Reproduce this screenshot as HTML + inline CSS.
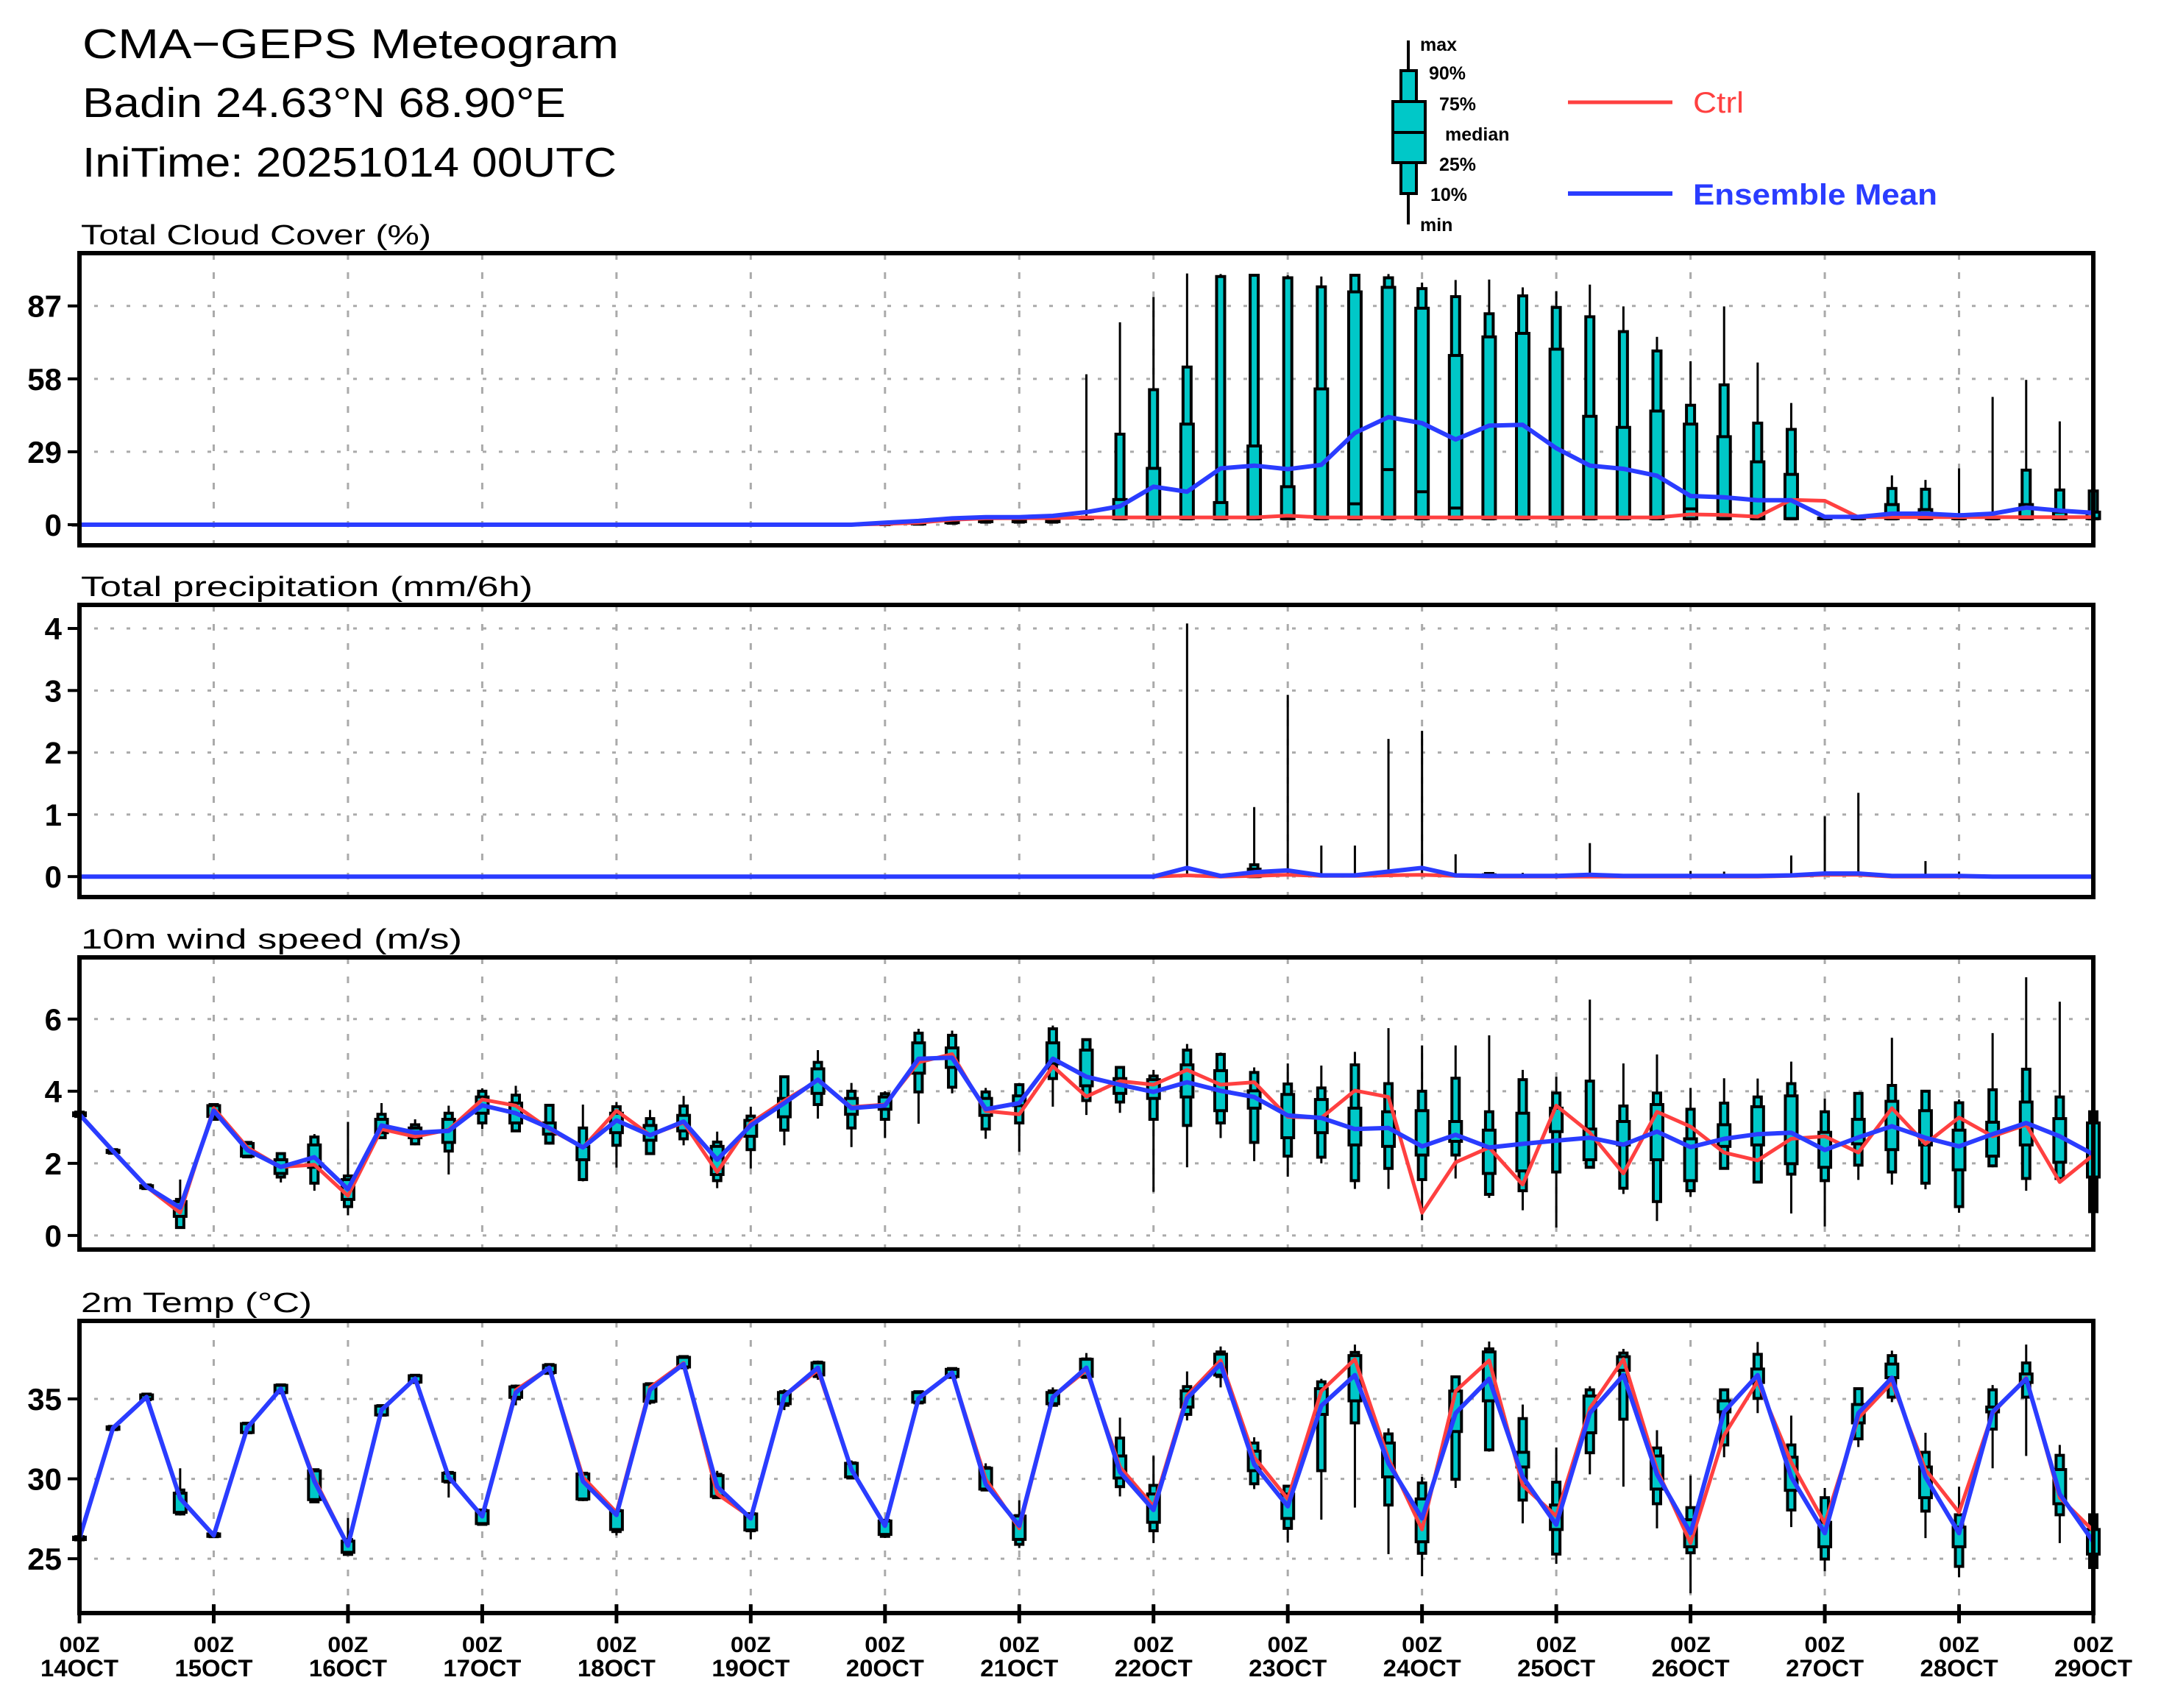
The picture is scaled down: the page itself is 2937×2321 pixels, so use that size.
<!DOCTYPE html>
<html><head><meta charset="utf-8"><title>CMA-GEPS Meteogram</title>
<style>html,body{margin:0;padding:0;background:#fff}svg{display:block}text{font-family:"Liberation Sans",sans-serif}</style>
</head><body>
<svg id="chart" xmlns="http://www.w3.org/2000/svg" width="2937" height="2321" viewBox="0 0 2937 2321">
<rect width="2937" height="2321" fill="#fff"/>
<g>
<text x="112" y="79" font-size="57" textLength="729" lengthAdjust="spacingAndGlyphs">CMA−GEPS Meteogram</text>
<text x="112" y="159" font-size="57" textLength="657" lengthAdjust="spacingAndGlyphs">Badin 24.63°N 68.90°E</text>
<text x="112" y="240" font-size="57" textLength="726" lengthAdjust="spacingAndGlyphs">IniTime: 20251014 00UTC</text>
</g>
<g font-weight="bold" font-size="25">
<line x1="1914" y1="55" x2="1914" y2="305" stroke="#000" stroke-width="4"/>
<rect x="1904" y="96" width="21" height="167" fill="#00c8c8" stroke="#000" stroke-width="4"/>
<rect x="1893" y="138" width="44" height="83" fill="#00c8c8" stroke="#000" stroke-width="4"/>
<line x1="1893" y1="180" x2="1937" y2="180" stroke="#000" stroke-width="4"/>
<text x="1930" y="69">max</text><text x="1942" y="108">90%</text><text x="1956" y="150">75%</text>
<text x="1964" y="191">median</text><text x="1956" y="232">25%</text><text x="1944" y="273">10%</text><text x="1930" y="314">min</text>
<line x1="2131" y1="139" x2="2273" y2="139" stroke="#ff4040" stroke-width="5"/>
<text x="2301" y="153" font-size="40" font-weight="normal" fill="#ff4040" textLength="69" lengthAdjust="spacingAndGlyphs">Ctrl</text>
<line x1="2131" y1="263" x2="2273" y2="263" stroke="#2a3cff" stroke-width="6"/>
<text x="2301" y="278" font-size="40" font-weight="bold" fill="#2a3cff" textLength="332" lengthAdjust="spacingAndGlyphs">Ensemble Mean</text>
</g>
</svg>
<script>
// ---- Cloud cover (%) ----
const cloudMax=[0,0,0,0,0,0,0,0,0,0,0,0,0,0,0,0,0,0,0,0,0,0,0,0,1,2,2.5,3,3,3,59.8,80.5,90.5,99.9,99.7,99.2,99.2,98.7,99.4,99.7,96.3,97.3,97.5,94.4,92.9,95.5,86.8,74.7,65,86.8,64.5,48.4,3,3,19.6,17.8,22.4,50.8,57.6,41.1,13.4];
const cloudP90=[0,0,0,0,0,0,0,0,0,0,0,0,0,0,0,0,0,0,0,0,0,0,0,0,0.8,1.5,2,2.6,2.6,2.6,3,36,53.7,62.7,98.7,99.2,98.2,94.6,99.2,98.2,93.9,90.7,83.9,91,86.4,82.7,76.8,69.1,47.5,55.6,40.4,37.9,3,3,14.4,14.1,3,3,21.7,13.8,13.4];
const cloudP75=[0,0,0,0,0,0,0,0,0,0,0,0,0,0,0,0,0,0,0,0,0,0,0,0,0.5,1,1.5,2,2,2,2.6,10,22.4,40,8.8,31.3,15.1,54,92.6,94.4,86.1,67.3,74.7,76.1,69.8,43.1,38.7,45.2,40,35,25,20,2.6,2.6,8,6,2.6,2.6,8,5,5];
const cloudMed=[0,0,0,0,0,0,0,0,0,0,0,0,0,0,0,0,0,0,0,0,0,0,0,0,0.3,0.5,1,1.5,1.5,1.5,2.4,2.4,2.4,2.4,2.4,2.4,2.4,2.4,8.3,21.9,13.1,6.6,2.4,2.4,2.4,2.4,2.4,2.4,6.3,2.4,2.4,2.4,2.4,2.4,2.4,2.4,2.4,2.4,2.4,2.4,2.4];
const cloudP25=[0,0,0,0,0,0,0,0,0,0,0,0,0,0,0,0,0,0,0,0,0,0,0,0,0.2,0.3,0.8,1.2,1.2,1.2,2.4,2.4,2.4,2.4,2.4,2.4,2.4,2.4,2.4,2.4,2.4,2.4,2.4,2.4,2.4,2.4,2.4,2.4,2.4,2.4,2.4,2.4,2.4,2.4,2.4,2.4,2.4,2.4,2.4,2.4,2.4];
const cloudP10=[0,0,0,0,0,0,0,0,0,0,0,0,0,0,0,0,0,0,0,0,0,0,0,0,0,0.2,0.6,1,1,1,2.3,2.3,2.3,2.3,2.3,2.3,2.3,2.3,2.3,2.3,2.3,2.3,2.3,2.3,2.3,2.3,2.3,2.3,2.3,2.3,2.3,2.3,2.3,2.3,2.3,2.3,2.3,2.3,2.3,2.3,2.3];
const cloudMin=[0,0,0,0,0,0,0,0,0,0,0,0,0,0,0,0,0,0,0,0,0,0,0,0,0,0,0.5,0.8,0.8,0.8,2.2,2.2,2.2,2.2,2.2,2.2,2.2,2.2,2.2,2.2,2.2,2.2,2.2,2.2,2.2,2.2,2.2,2.2,2.2,2.2,2.2,2.2,2.2,2.2,2.2,2.2,2.2,2.2,2.2,2.2,2.2];
const cloudMean=[0,0,0,0,0,0,0,0,0,0,0,0,0,0,0,0,0,0,0,0,0,0,0,0,0.8,1.5,2.5,3,3,3.5,5,7.3,15.1,13.1,22.4,23.5,22.1,23.8,36.5,42.8,40.4,33.9,39.4,39.7,30.4,23.5,22.2,19.5,11.4,10.9,9.7,9.7,3.1,3.1,4.4,4.4,3.7,4.4,6.8,5.6,4.7];
const cloudCtrl=[0,0,0,0,0,0,0,0,0,0,0,0,0,0,0,0,0,0,0,0,0,0,0,0,0.3,0.8,2,2.5,2.6,2.6,2.9,2.9,2.9,2.9,2.9,2.9,3.6,2.9,2.9,2.9,2.9,2.9,2.9,2.9,2.9,2.9,2.9,2.9,4.1,3.9,3.2,9.9,9.5,3,3,3,3,3,3,3,3];
const cloudTicks=[0,29,58,87];
// ---- Precipitation (mm/6h) ----
const precipMax=[0,0,0,0,0,0,0,0,0,0,0,0,0,0,0,0,0,0,0,0,0,0,0,0,0,0,0,0,0,0,0,0,0,4.08,0,1.12,2.93,0.5,0.5,2.22,2.35,0.36,0.05,0.06,0,0.54,0,0,0.09,0.08,0,0.34,0.97,1.35,0,0.25,0.08,0,0,0,0];
const precipP90=[0,0,0,0,0,0,0,0,0,0,0,0,0,0,0,0,0,0,0,0,0,0,0,0,0,0,0,0,0,0,0,0,0,0,0,0.19,0,0,0,0,0,0,0.05,0,0,0,0,0,0,0,0,0,0,0,0,0,0,0,0,0,0];
const precipP75=[0,0,0,0,0,0,0,0,0,0,0,0,0,0,0,0,0,0,0,0,0,0,0,0,0,0,0,0,0,0,0,0,0,0,0,0.12,0,0,0,0,0,0,0.03,0,0,0,0,0,0,0,0,0,0,0,0,0,0,0,0,0,0];
const precipLow=[0,0,0,0,0,0,0,0,0,0,0,0,0,0,0,0,0,0,0,0,0,0,0,0,0,0,0,0,0,0,0,0,0,0,0,0,0,0,0,0,0,0,0,0,0,0,0,0,0,0,0,0,0,0,0,0,0,0,0,0,0];
const precipMean=[0,0,0,0,0,0,0,0,0,0,0,0,0,0,0,0,0,0,0,0,0,0,0,0,0,0,0,0,0,0,0,0,0,0.14,0.01,0.07,0.1,0.02,0.02,0.08,0.14,0.02,0.01,0.01,0.01,0.03,0.01,0.01,0.01,0.01,0.01,0.02,0.05,0.05,0.01,0.01,0.01,0,0,0,0];
const precipCtrl=[0,0,0,0,0,0,0,0,0,0,0,0,0,0,0,0,0,0,0,0,0,0,0,0,0,0,0,0,0,0,0,0,0,0.02,0,0.01,0.03,0.01,0.01,0.02,0.03,0.01,0,0,0,0,0,0,0,0,0,0.01,0.03,0.03,0,0,0,0,0,0,0];
const precipTicks=[0,1,2,3,4];
// ---- 10m wind (m/s) ----
const windMean=[3.36,2.34,1.35,0.77,3.46,2.37,1.9,2.17,1.28,3.05,2.85,2.9,3.61,3.39,2.98,2.44,3.19,2.78,3.16,2.1,3.05,3.67,4.32,3.53,3.6,4.9,4.93,3.5,3.67,4.9,4.4,4.18,3.98,4.25,4.01,3.84,3.33,3.26,2.95,2.98,2.47,2.79,2.44,2.54,2.63,2.71,2.52,2.88,2.45,2.68,2.81,2.85,2.37,2.72,3.03,2.71,2.47,2.81,3.12,2.75,2.25];
const windCtrl=[3.36,2.34,1.35,0.63,3.53,2.44,1.9,1.96,1.1,2.95,2.74,2.93,3.77,3.6,2.95,2.44,3.46,2.78,3.13,1.76,3.12,3.74,4.3,3.56,3.63,4.8,5.03,3.45,3.36,4.69,3.85,4.28,4.18,4.59,4.18,4.25,3.29,3.26,4.02,3.84,0.63,2.03,2.44,1.41,3.6,2.85,1.72,3.43,3.02,2.3,2.08,2.68,2.75,2.3,3.53,2.54,3.27,2.75,3.07,1.48,2.23];
const windMax=[3.45,2.4,1.42,1.55,3.67,2.62,2.27,2.81,3.15,3.67,3.22,3.6,4.08,4.15,3.63,3.63,3.7,3.48,3.87,2.88,3.57,4.4,5.14,4.23,4,5.73,5.68,4.09,4.23,5.82,5.45,4.66,4.59,5.31,5.07,4.66,4.77,4.71,5.09,5.75,5.27,5.27,5.55,4.59,4.4,6.54,4.77,5.02,4.09,4.36,4.35,4.82,3.8,3.94,5.48,4,3.77,5.61,7.16,6.48,3.43];
const windP90=[3.42,2.38,1.4,1,3.63,2.58,2.27,2.73,1.65,3.36,3.07,3.39,4,3.89,3.61,2.98,3.57,3.24,3.59,2.59,3.31,4.4,4.8,4,3.93,5.61,5.55,3.98,4.18,5.73,5.43,4.66,4.42,5.14,5.02,4.52,4.2,4.09,4.73,4.21,4,4.36,3.43,4.32,3.95,4.28,3.59,3.95,3.5,3.67,3.84,4.21,3.43,3.94,4.16,4,3.68,4.04,4.61,3.84,3.43];
const windP75=[3.4,2.36,1.38,0.94,3.6,2.55,2.1,2.51,1.55,3.22,2.98,3.22,3.84,3.67,3.12,2.47,3.39,3.05,3.33,2.47,3.19,3.8,4.62,3.8,3.84,5.34,5.2,3.8,3.87,5.34,5.14,4.35,4.32,4.73,4.57,4.01,3.91,3.77,3.53,3.43,3.46,3.16,2.92,3.39,3.53,2.95,3.16,3.63,2.68,3.07,3.57,3.87,2.86,3.22,3.72,3.46,2.92,3.14,3.7,3.24,3.12];
const windP25=[3.32,2.3,1.32,0.53,3.3,2.2,1.72,1.89,1,2.85,2.71,2.58,3.39,3.12,2.81,2.1,2.85,2.64,2.9,1.69,2.75,3.29,3.94,3.36,3.5,4.5,4.66,3.33,3.6,4.76,4.15,3.94,3.8,3.84,3.46,3.53,2.71,2.85,2.51,2.47,2.23,2.61,1.72,1.79,2.88,2.1,2.51,2.1,1.52,2.47,2.51,1.99,1.89,2.54,2.38,2.51,1.82,2.2,2.51,2.03,1.62];
const windP10=[3.3,2.28,1.3,0.22,3.22,2.18,1.62,1.45,0.8,2.71,2.54,2.34,3.12,2.9,2.56,1.55,2.5,2.27,2.68,1.52,2.38,2.92,3.63,2.98,3.22,3.98,4.11,2.95,3.12,4.35,3.74,3.7,3.22,3.05,3.12,2.58,2.2,2.17,1.52,1.86,1.55,2.23,1.14,1.24,1.76,1.89,1.31,0.94,1.24,1.86,1.48,1.7,1.52,1.95,1.76,1.45,0.8,1.93,1.58,1.58,0.66];
const windMin=[3.28,2.26,1.28,0.22,3.2,2.15,1.47,1.24,0.56,2.68,2.5,1.69,2.95,2.88,2.52,1.5,1.88,2.24,2.5,1.31,1.86,2.5,3.24,2.45,2.7,3.1,3.94,2.68,2.32,3.57,3.34,3.4,1.21,1.89,2.7,2.06,1.63,2,1.29,1.29,0.42,1.58,1.04,0.7,0.22,1.89,1.15,0.4,1.07,1.86,1.45,0.61,0.25,1.54,1.41,1.28,0.63,1.89,1.24,1.58,0.66];
const windTicks=[0,2,4,6];
// ---- 2m temperature (°C) ----
const tempMean=[26.28,33.18,35.13,28.78,26.46,33.2,35.64,29.84,25.82,34.31,36.28,30.11,27.65,35.4,36.95,29.84,27.74,35.57,37.18,29.51,27.52,35.18,36.95,30.58,27.06,35.03,36.64,29.66,27.06,35.11,36.95,30.43,28.05,35.03,37.18,30.89,28.28,34.57,36.49,30.97,27.52,34.11,36.26,30.12,27.13,34.11,36.49,30.28,26.6,34.19,36.49,30.12,26.6,34.11,36.33,30.12,26.6,34.19,36.26,29.05,26.06];
const tempCtrl=[26.28,33.18,35.13,28.78,26.46,33.2,35.64,30.0,25.82,34.31,36.28,30.11,27.65,35.55,36.95,30.1,27.9,35.72,37.25,29.05,27.6,35.18,36.8,30.58,27.06,35.03,36.64,29.97,26.9,35.11,36.8,30.74,28.28,35.21,37.41,31.35,28.74,35.49,37.48,31.27,26.83,35.49,37.41,29.59,27.67,34.42,37.48,30.58,25.98,32.73,36.1,31.04,27.21,33.8,36.03,30.58,27.9,34.11,36.33,28.82,26.75];
const tempMax=[26.4,33.3,35.35,30.66,26.6,33.5,35.9,30.6,27.55,34.6,36.5,30.4,28.1,35.9,37.2,30.4,28.05,36,37.7,30.5,27.85,35.6,37.4,31.15,27.45,35.5,36.95,30.97,28.67,35.72,37.87,33.83,31.43,36.72,38.28,32.6,29.54,36.26,38.4,33.16,30.12,36.38,38.59,34.65,31.96,35.8,38.13,33.04,30.2,35.57,38.56,33.96,29.43,35.64,38.02,32.88,29.51,35.87,38.4,32.12,27.75];
const tempP90=[26.38,33.28,35.3,29.3,26.58,33.48,35.88,30.57,26.2,34.58,36.48,30.4,28.05,35.8,37.15,30.35,28.02,35.95,37.65,30.28,27.82,35.45,37.3,31,27.4,35.45,36.9,30.7,27.7,35.5,37.5,32.55,29.59,35.77,37.94,32.24,29.54,36.07,37.91,32.81,29.74,36.38,38.13,33.77,29.79,35.57,37.87,31.93,28.2,35.57,37.79,32.12,28.82,35.64,37.71,31.66,27.75,35.57,37.25,31.47,27.75];
const tempP75=[26.35,33.25,35.25,29.1,26.55,33.45,35.85,30.5,26.1,34.55,36.45,30.35,28,35.75,37.1,30.3,28,35.9,37.6,30.2,27.8,35.4,37.25,30.97,27.36,35.4,36.85,30.66,27.67,35.4,37.48,31.43,29.05,35.5,37.8,31.73,29.05,35.64,37.71,32.24,28.74,35.49,37.94,31.66,28.36,35.18,37.64,31.43,27.44,34.88,36.87,31.35,27.28,34.65,37.18,30.74,26.98,34.49,36.56,30.58,26.83];
const tempP25=[26.2,33.1,35,27.9,26.4,32.9,35.4,28.7,25.4,34,36.05,29.85,27.2,35.1,36.65,28.74,26.83,34.85,37,28.9,26.8,34.7,36.5,30.12,26.52,34.8,36.4,29.36,26.21,34.7,36.41,30.05,27.28,34.49,36.49,30.51,27.52,34.03,34.88,30.12,26.06,32.96,34.88,30.74,26.83,32.88,36.79,29.36,25.75,34.19,36.03,29.28,25.75,33.5,36.33,28.82,25.75,34.19,36.03,28.44,25.29];
const tempP10=[26.18,33.08,34.95,27.8,26.38,32.88,35.38,28.56,25.27,33.98,36.03,29.8,27.15,35,36.6,28.7,26.7,34.8,36.95,28.82,26.75,34.6,36.4,30.05,26.4,34.75,36.35,29.3,25.9,34.6,36.35,29.51,26.75,34.03,36.4,29.69,26.9,30.51,33.5,28.36,25.34,29.97,31.81,28.67,25.29,31.63,33.73,28.44,25.37,32.12,35.03,28.05,24.98,32.5,35.11,27.98,24.52,33.11,35.11,27.75,24.45];
const tempMin=[26.15,33.05,34.9,27.7,26.35,32.85,35.35,28.5,25.2,33.95,36,28.83,27.1,34.6,36.55,28.6,26.46,34.65,36.9,28.8,26.21,34.3,36.2,30,26.3,34.7,36.3,29.28,25.67,34.57,36.3,28.9,25.98,33.65,35.72,29.36,26.01,27.44,28.2,25.29,23.91,29.43,31.7,27.21,24.68,30.28,29.51,26.9,22.84,31.35,34.11,26.98,24.22,31.99,34.8,26.29,23.84,30.66,31.43,25.98,24.37];
const tempTicks=[25,30,35];
const dayLabels=["14OCT","15OCT","16OCT","17OCT","18OCT","19OCT","20OCT","21OCT","22OCT","23OCT","24OCT","25OCT","26OCT","27OCT","28OCT","29OCT"];

const NS="http://www.w3.org/2000/svg";
const svg=document.getElementById('chart');
const X0=108, X1=2845, NSTEP=60;
function xs(i){return X0+(X1-X0)*i/NSTEP;}
function mk(tag,attrs,parent){const e=document.createElementNS(NS,tag);for(const k in attrs)e.setAttribute(k,attrs[k]);(parent||svg).appendChild(e);return e;}

const panels=[
 {key:'cloud',title:'Total Cloud Cover (%)',tw:476,top:344,bot:741,vmin:-8.2,vmax:108,ticks:cloudTicks,
  mx:cloudMax,p90:cloudP90,p75:cloudP75,med:cloudMed,p25:cloudP25,p10:cloudP10,mn:cloudMin,mean:cloudMean,ctrl:cloudCtrl},
 {key:'precip',title:'Total precipitation (mm/6h)',tw:614,top:822,bot:1219,vmin:-0.33,vmax:4.38,ticks:precipTicks,
  mx:precipMax,p90:precipP90,p75:precipP75,med:precipLow,p25:precipLow,p10:precipLow,mn:precipLow,mean:precipMean,ctrl:precipCtrl},
 {key:'wind',title:'10m wind speed (m/s)',tw:518,top:1301,bot:1698,vmin:-0.39,vmax:7.71,ticks:windTicks,
  mx:windMax,p90:windP90,p75:windP75,med:null,p25:windP25,p10:windP10,mn:windMin,mean:windMean,ctrl:windCtrl},
 {key:'temp',title:'2m Temp (°C)',tw:314,top:1795,bot:2192,vmin:21.6,vmax:39.88,ticks:tempTicks,
  mx:tempMax,p90:tempP90,p75:tempP75,med:null,p25:tempP25,p10:tempP10,mn:tempMin,mean:tempMean,ctrl:tempCtrl}
];

panels.forEach(function(p){
  const g=mk('g',{});
  
  
  const ys=function(v){return p.bot-(v-p.vmin)/(p.vmax-p.vmin)*(p.bot-p.top);};
  const t=mk('text',{x:110,y:p.top-12,'font-size':38,textLength:p.tw,lengthAdjust:'spacingAndGlyphs'},g);
  t.textContent=p.title;
  
  
  // grid
  for(let d=1;d<15;d++){
    const gl=mk('line',{x1:xs(d*4),x2:xs(d*4),y1:p.top,y2:p.bot,stroke:'#aaa','stroke-width':3,'stroke-dasharray':'9 17'},g);
    
    
  }
  p.ticks.forEach(function(v){
    const y=ys(v);
    const hl=mk('line',{x1:X0+20,x2:X1,y1:y,y2:y,stroke:'#aaa','stroke-width':3,'stroke-dasharray':'5 17'},g);
    
    
    mk('line',{x1:92,x2:X0,y1:y,y2:y,stroke:'#000','stroke-width':4},g);
    const lb=mk('text',{x:84,y:y+15,'font-size':42,'font-weight':'bold','text-anchor':'end'},g);
    lb.textContent=String(v);
    
    
  });
  // boxes
  const wN=p.key==='cloud'?11:10, wW=p.key==='cloud'?17:16;
  for(let i=0;i<p.mean.length;i++){
    const x=xs(i);
    if(p.mx[i]===p.mn[i]&&p.mx[i]===0&&p.key!=='cloud')continue;
    const bg=mk('g',{},g);
    
    
    mk('line',{x1:x,x2:x,y1:ys(p.mx[i]),y2:ys(p.mn[i]),stroke:'#000','stroke-width':3},bg);
    if(p.p90[i]-p.p10[i]>0||p.key!=='precip'){
      const a=ys(p.p90[i]),b=ys(p.p10[i]);
      mk('rect',{x:x-wN/2,y:a,width:wN,height:Math.max(0.5,b-a),fill:'#00c8c8',stroke:'#000','stroke-width':4},bg);
      const c=ys(p.p75[i]),d=ys(p.p25[i]);
      mk('rect',{x:x-wW/2,y:c,width:wW,height:Math.max(0.5,d-c),fill:'#00c8c8',stroke:'#000','stroke-width':4},bg);
      if(p.med){const m=ys(p.med[i]);mk('line',{x1:x-wW/2,x2:x+wW/2,y1:m,y2:m,stroke:'#000','stroke-width':4},bg);}
    }
  }
  const path=function(arr){return arr.map(function(v,i){return (i?'L':'M')+xs(i).toFixed(1)+' '+ys(v).toFixed(1);}).join(' ');};
  const cl=mk('path',{d:path(p.ctrl),fill:'none',stroke:'#ff4040','stroke-width':5,'stroke-linejoin':'round'},g);
  
  
  const ml=mk('path',{d:path(p.mean),fill:'none',stroke:'#2a3cff','stroke-width':6,'stroke-linejoin':'round'},g);
  
  
  const fr=mk('rect',{x:X0,y:p.top,width:X1-X0,height:p.bot-p.top,fill:'none',stroke:'#000','stroke-width':6},g);
  
  
});
// x axis
const xg=mk('g',{});


dayLabels.forEach(function(lab,d){
  const x=xs(d*4);
  mk('line',{x1:x,x2:x,y1:2180,y2:2206,stroke:'#000','stroke-width':5},xg);
  const t1=mk('text',{x:x,y:2245,'font-size':30,'font-weight':'bold','text-anchor':'middle',textLength:55,lengthAdjust:'spacingAndGlyphs'},xg);
  t1.textContent='00Z';
  
  
  const t2=mk('text',{x:x,y:2278,'font-size':32,'font-weight':'bold','text-anchor':'middle',textLength:106,lengthAdjust:'spacingAndGlyphs'},xg);
  t2.textContent=lab;
  
  
});
</script>
</body></html>
